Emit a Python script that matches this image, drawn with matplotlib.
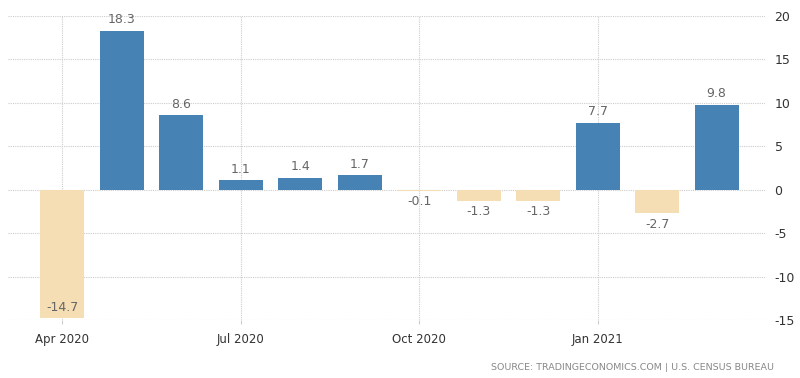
import matplotlib
matplotlib.use("Agg")
import matplotlib.pyplot as plt

months = ["Apr 2020", "May 2020", "Jun 2020", "Jul 2020", "Aug 2020", "Sep 2020",
          "Oct 2020", "Nov 2020", "Dec 2020", "Jan 2021", "Feb 2021", "Mar 2021"]
values = [-14.7, 18.3, 8.6, 1.1, 1.4, 1.7, -0.1, -1.3, -1.3, 7.7, -2.7, 9.8]
tick_labels = ["Apr 2020", "Jul 2020", "Oct 2020", "Jan 2021"]
tick_idx = [0, 3, 6, 9]
yticks = [-15, -10, -5, 0, 5, 10, 15, 20]

pos_color = "#4682B4"
neg_color = "#F5DEB3"

fig = plt.figure(figsize=(8, 3.78), dpi=100)
ax = fig.add_axes([0.01, 0.153, 0.946, 0.805])

x = list(range(len(values)))
colors = [pos_color if v >= 0 else neg_color for v in values]
ax.bar(x, values, width=0.74, color=colors, zorder=3)

ymin, ymax = -15, 20
ax.set_ylim(ymin, ymax)
ax.set_xlim(-0.91, 11.81)

for xi, v in zip(x, values):
    if v >= 0:
        ax.text(xi, v + 0.5, f"{v:.1f}", ha="center", va="bottom", fontsize=9, color="#666666", zorder=4)
    else:
        y = v - 0.5
        if y - 1.5 < ymin:
            ax.text(xi, v + 0.4, f"{v:.1f}", ha="center", va="bottom", fontsize=9, color="#666666", zorder=4)
        else:
            ax.text(xi, y, f"{v:.1f}", ha="center", va="top", fontsize=9, color="#666666", zorder=4)

ax.set_xticks(tick_idx)
ax.set_xticklabels(tick_labels, fontsize=8.5, color="#333333")
ax.set_yticks(yticks)
ax.set_yticklabels([str(t) for t in yticks], fontsize=9, color="#333333")
ax.yaxis.tick_right()
ax.tick_params(axis="y", length=0, pad=7)
ax.tick_params(axis="x", length=3, color="#cccccc", pad=6)

ax.grid(True, linestyle=(0, (1, 1)), color="#cccccc", linewidth=0.8, zorder=0)
for s in ax.spines.values():
    s.set_visible(False)

fig.text(0.968, 0.027, "SOURCE: TRADINGECONOMICS.COM | U.S. CENSUS BUREAU",
         ha="right", va="center", fontsize=6.8, color="#888888")

fig.savefig("out.png", dpi=100)
